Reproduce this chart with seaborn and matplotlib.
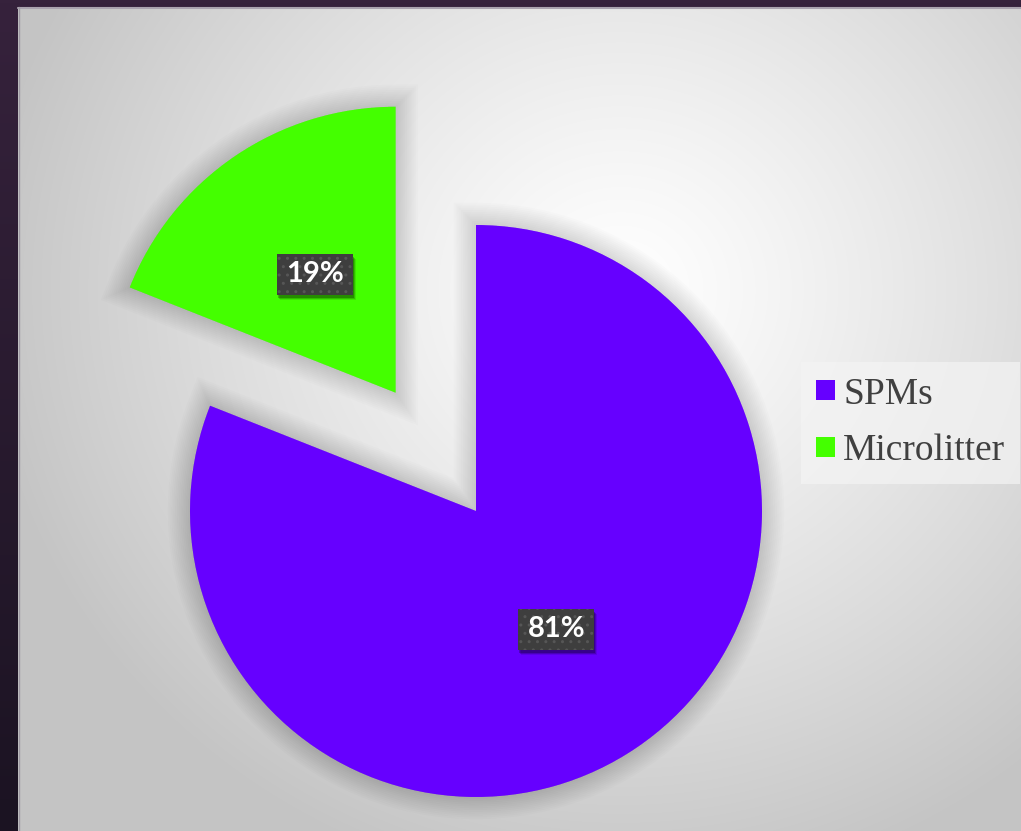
import numpy as np
import matplotlib
matplotlib.use("Agg")
import matplotlib.pyplot as plt
import matplotlib.patheffects as pe
from matplotlib.patches import Patch, Rectangle
from matplotlib.transforms import IdentityTransform, ScaledTranslation
import seaborn as sns

# Share of particles by type
categories = ["SPMs", "Microlitter"]
shares = [81, 19]
colors = sns.color_palette(["#6600FF", "#44FF00"])

sns.set_theme(style="white")

W, H = 1021, 831
fig = plt.figure(figsize=(W / 100, H / 100), dpi=100)
fig.patch.set_facecolor("#261a30")

# ---- backdrop: dark frame and a light panel with a radial glow ----
bg = fig.add_axes([0, 0, 1, 1])
bg.set_xlim(0, W)
bg.set_ylim(H, 0)
bg.axis("off")

t = np.linspace(0, 1, 256)[:, None, None]
top_c = np.array([0x36, 0x22, 0x3c]) / 255
bot_c = np.array([0x1b, 0x13, 0x22]) / 255
frame = top_c * (1 - t) + bot_c * t
bg.imshow(np.repeat(frame, 2, axis=1), extent=[0, W, H, 0], aspect="auto", zorder=0)

px0, py0 = 18, 7
xs = np.arange(px0, W)
ys = np.arange(py0, H)
X, Y = np.meshgrid(xs, ys)
cx, cy = 620, 290
d = np.sqrt((X - cx) ** 2 + ((Y - cy) / 0.95) ** 2)
v = 1.0 - 0.23 * np.clip(d / 640, 0, 1) ** 1.2
panel = np.dstack([v, v, v])
bg.imshow(panel, extent=[px0, W, H, py0], aspect="auto", zorder=1)
bg.plot([px0, W], [py0 + 0.5, py0 + 0.5], color="#aaa3af", lw=1.5, zorder=2)
bg.plot([px0 + 0.5, px0 + 0.5], [py0, H], color="#9f9aa4", lw=1.0, zorder=2)

# ---- pie ----
ax = fig.add_axes([0, 0, 1, 1])
ax.patch.set_alpha(0)
R = 286.0
cx_pie, cy_pie = 476, 511

wedges, texts, autotexts = ax.pie(
    shares,
    colors=colors,
    explode=[0, 0.5],
    startangle=90,
    counterclock=False,
    autopct="%1.0f%%",
    pctdistance=0.5,
    radius=1,
    wedgeprops=dict(linewidth=0),
    textprops=dict(color="white", fontsize=21, fontweight="bold", family="Lato"),
)

ax.set_aspect("auto")
ax.set_xlim(-cx_pie / R, (W - cx_pie) / R)
ax.set_ylim(-(H - cy_pie) / R, cy_pie / R)
ax.axis("off")

# soft shadow around each wedge
glow = [pe.Stroke(linewidth=lw, foreground="black", alpha=0.011)
        for lw in np.linspace(32, 3, 12)]
for w in wedges:
    w.set_path_effects(glow + [pe.Normal()])

# dark label tags behind the percentages (sizes in pixels)
tag_w, tag_h = 76, 41
for at in autotexts:
    at.set_zorder(5)
    x, y = at.get_position()
    anchor = IdentityTransform() + ScaledTranslation(x, y, ax.transData)
    for k, a in ((4, 0.10), (3, 0.18), (2, 0.25)):
        ax.add_patch(Rectangle((-tag_w / 2 + k - 1, -tag_h / 2 - k - 1), tag_w, tag_h,
                               transform=anchor, facecolor="black", alpha=a,
                               linewidth=0, zorder=3))
    ax.add_patch(Rectangle((-tag_w / 2, -tag_h / 2), tag_w, tag_h, transform=anchor,
                           facecolor="#3e3e3e", edgecolor="#565656", linewidth=0,
                           hatch="..", zorder=4))

# ---- legend ----
handles = [Patch(facecolor=c, edgecolor="none") for c in colors]
leg = ax.legend(
    handles, categories,
    loc="upper left",
    bbox_to_anchor=(801 / W, 1 - 362 / H),
    bbox_transform=fig.transFigure,
    prop=dict(family="Liberation Serif", size=27),
    labelcolor="#404040",
    frameon=True, fancybox=False,
    facecolor="#f4f4f4", edgecolor="none", framealpha=0.7,
    handlelength=0.5, handleheight=0.45, handletextpad=0.22,
    labelspacing=0.6, borderpad=0.4, borderaxespad=0,
)

fig.savefig("out.png", dpi=100, facecolor=fig.get_facecolor())
